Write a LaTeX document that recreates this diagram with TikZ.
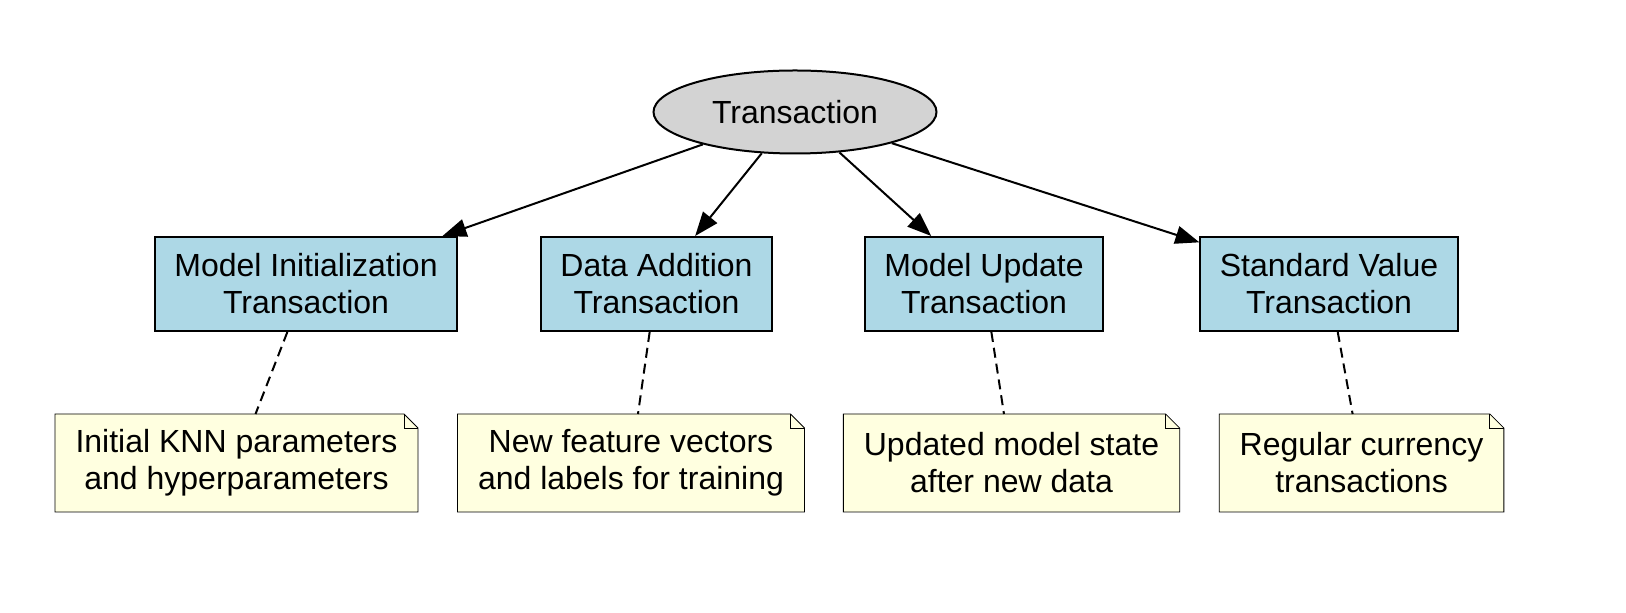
\documentclass[tikz,border=0pt]{standalone}
\usepackage{fontspec}
\setmainfont{Liberation Sans}
\usetikzlibrary{arrows.meta,shapes.geometric,backgrounds}

\definecolor{boxblue}{HTML}{ADD8E6}
\definecolor{ovalgray}{HTML}{D3D3D3}
\definecolor{noteyellow}{HTML}{FFFFE0}

\tikzset{
	every node/.style={font=\fontsize{16}{18.5}\selectfont, align=center},
	txtype/.style={rectangle, draw, fill=boxblue, inner xsep=9.75pt, minimum height=47pt},
	txnote/.style={rectangle, inner xsep=9.75pt, minimum height=48pt},
	root/.style={ellipse, draw, fill=ovalgray, inner sep=0pt, minimum width=141.5pt, minimum height=41.5pt},
	link/.style={dash pattern=on 5pt off 3pt},
}

\begin{document}
\begin{tikzpicture}[x=0.5pt,y=-0.5pt,line width=1pt,>={Triangle[length=12pt,width=9pt]}]
	\node[root] (tx) at (795,112) {Transaction};

	\node[txtype] (init) at (306,284) {Model Initialization\\Transaction};
	\node[txtype] (data) at (656.5,284) {Data Addition\\Transaction};
	\node[txtype] (upd) at (984,284) {Model Update\\Transaction};
	\node[txtype] (std) at (1329,284) {Standard Value\\Transaction};

	\node[txnote] (ninit) at (236.5,463) {Initial KNN parameters\\and hyperparameters};
	\node[txnote] (ndata) at (631,463) {New feature vectors\\and labels for training};
	\node[txnote] (nupd) at (1011.5,463) {Updated model state\\after new data};
	\node[txnote] (nstd) at (1361.5,463) {Regular currency\\transactions};

	% folded note outlines behind the text
	\begin{scope}[on background layer]
		\foreach \n in {ninit,ndata,nupd,nstd} {
			\filldraw[fill=noteyellow] (\n.south west) -- (\n.south east)
				-- ([yshift=-7pt]\n.north east) -- ([xshift=-7pt]\n.north east)
				-- (\n.north west) -- cycle;
			\draw ([xshift=-7pt]\n.north east) |- ([yshift=-7pt]\n.north east);
		}
	\end{scope}

	\foreach \b in {init,data,upd,std}
		\draw[->] (tx) -- (\b);

	\draw[link] (init) -- (ninit);
	\draw[link] (data) -- (ndata);
	\draw[link] (upd) -- (nupd);
	\draw[link] (std) -- (nstd);

	\pgfresetboundingbox
	\useasboundingbox (0,0) rectangle (1626,613);
\end{tikzpicture}
\end{document}
